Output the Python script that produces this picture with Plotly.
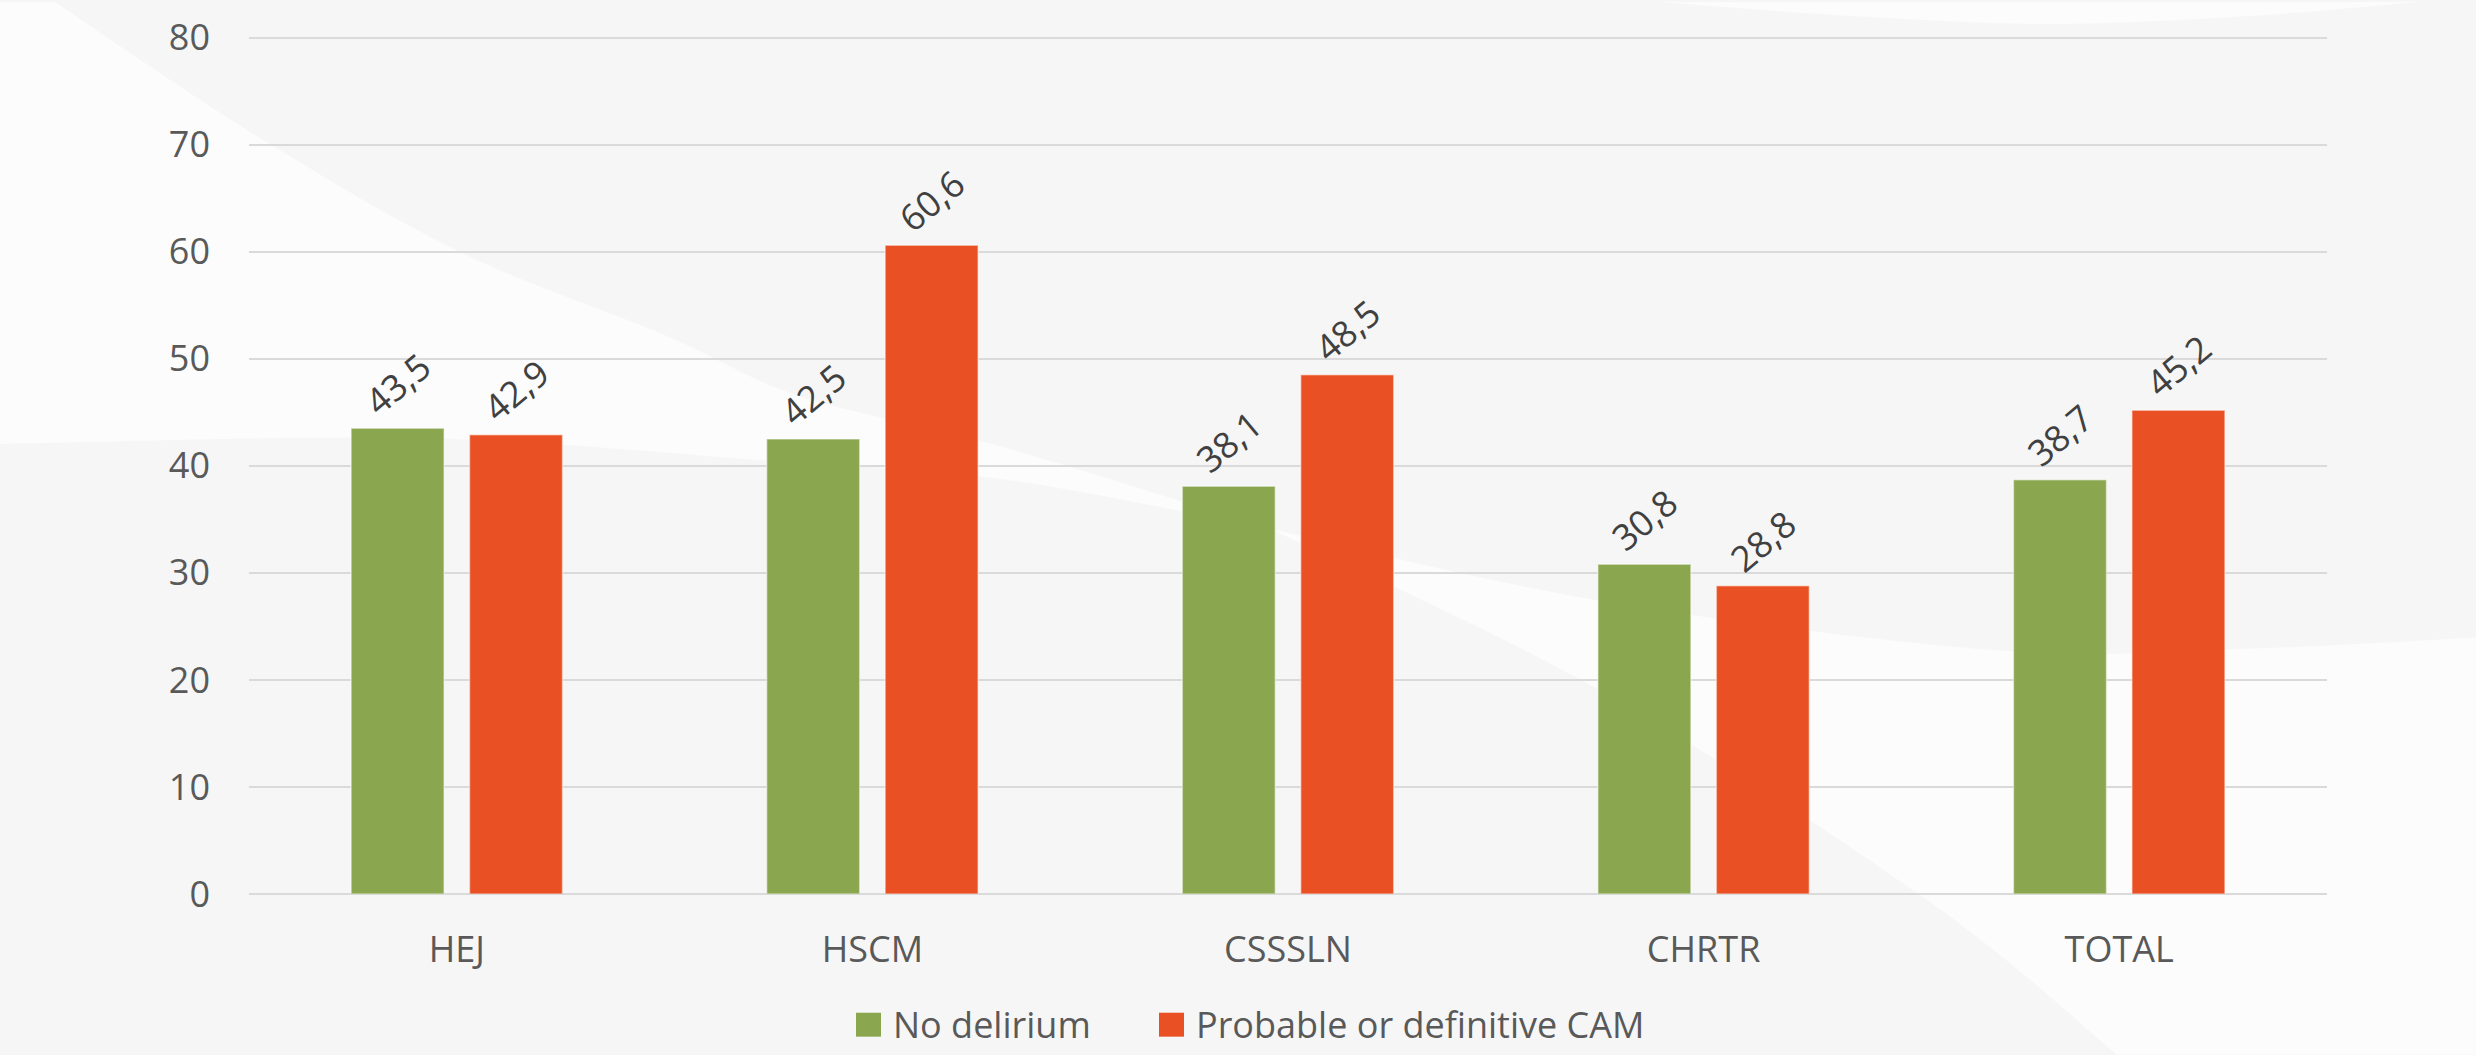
import plotly.graph_objects as go

# ---- data ----
categories = ["HEJ", "HSCM", "CSSSLN", "CHRTR", "TOTAL"]
series_names = ["No delirium", "Probable or definitive CAM"]
no_delirium = [43.5, 42.5, 38.1, 30.8, 38.7]
probable_cam = [42.9, 60.6, 48.5, 28.8, 45.2]
y_ticks = [0, 10, 20, 30, 40, 50, 60, 70, 80]

# ---- styling ----
W, H = 2476, 1055
ML, MR, MT, MB = 249, 149, 34, 161
Y_MAX = 80.15  # a hair above the top tick so its gridline is kept
GREEN = "#8aa64f"
RED = "#e95024"
BG = "#f6f6f6"
SWOOSH = "rgba(255,255,255,0.62)"
GRID = "#dadada"
TICK_COLOR = "#595959"
LABEL_COLOR = "#404040"
FONT = "Open Sans, Segoe UI, sans-serif"
FS = 36


def px_x(x):
    return (x - ML) / (W - ML - MR)


def px_y(y):
    return (H - MB - y) / (H - MT - MB)


def smooth(points, move=True):
    """Catmull-Rom curve through pixel points, as SVG path commands in paper units."""
    pts = [(px_x(x), px_y(y)) for x, y in points]
    out = ("M" if move else "L") + f"{pts[0][0]:.5f},{pts[0][1]:.5f}"
    n = len(pts)
    for i in range(n - 1):
        p0 = pts[i - 1] if i > 0 else pts[i]
        p1, p2 = pts[i], pts[i + 1]
        p3 = pts[i + 2] if i + 2 < n else pts[i + 1]
        c1 = (p1[0] + (p2[0] - p0[0]) / 6, p1[1] + (p2[1] - p0[1]) / 6)
        c2 = (p2[0] - (p3[0] - p1[0]) / 6, p2[1] - (p3[1] - p1[1]) / 6)
        out += f" C{c1[0]:.5f},{c1[1]:.5f} {c2[0]:.5f},{c2[1]:.5f} {p2[0]:.5f},{p2[1]:.5f}"
    return out


def line_to(x, y):
    return f" L{px_x(x):.5f},{px_y(y):.5f}"


# decorative background sweeps
diag_upper = [(55, 0), (255, 133), (459, 250), (663, 333), (800, 395), (1000, 445), (1270, 528)]
diag_lower = [(1270, 528), (1600, 690), (1927, 900), (2117, 1055)]
wave_left = [(1270, 528), (1000, 478), (746, 458), (500, 440), (300, 437), (0, 443)]
wave_right = [(2476, 637), (2250, 648), (2000, 650), (1600, 600), (1270, 528)]
arc_top = [(1660, 0), (1850, 14), (2050, 22), (2250, 14), (2420, 0)]

sweep_a = smooth(diag_upper) + " " + smooth(wave_left, move=False) + line_to(0, 0) + " Z"
sweep_b = (smooth(diag_lower) + line_to(2476, 1055) + line_to(2476, 637) + " "
           + smooth(wave_right, move=False) + " Z")
sweep_c = smooth(arc_top) + " Z"

shapes = [
    dict(type="path", path=p, xref="paper", yref="paper", fillcolor=SWOOSH,
         line=dict(width=0), layer="below")
    for p in (sweep_a, sweep_b, sweep_c)
]

fig = go.Figure()
for name, values, color in ((series_names[0], no_delirium, GREEN),
                            (series_names[1], probable_cam, RED)):
    fig.add_trace(go.Bar(
        name=name,
        x=categories,
        y=values,
        marker=dict(color=color, line=dict(color="rgba(255,255,255,0.45)", width=1.5)),
        texttemplate="%{y:.1f}",
        textposition="outside",
        textangle=-40,
        textfont=dict(family=FONT, size=FS, color=LABEL_COLOR),
        constraintext="none",
        cliponaxis=False,
        showlegend=False,
    ))

# legend drawn as colour keys with text
legend_y_top, legend_y_bot = 1013, 1037
legend_items = [(series_names[0], GREEN, 856), (series_names[1], RED, 1159)]
annotations = []
for name, color, x0 in legend_items:
    shapes.append(dict(type="rect", xref="paper", yref="paper",
                       x0=px_x(x0), x1=px_x(x0 + 25),
                       y0=px_y(legend_y_bot), y1=px_y(legend_y_top),
                       fillcolor=color, line=dict(width=0)))
    annotations.append(dict(text=name, xref="paper", yref="paper",
                            x=px_x(x0 + 35), y=px_y(1025), xanchor="left", yanchor="middle",
                            showarrow=False, font=dict(family=FONT, size=FS, color=TICK_COLOR)))

fig.update_layout(
    width=W,
    height=H,
    margin=dict(l=ML, r=MR, t=MT, b=MB, pad=0),
    paper_bgcolor=BG,
    plot_bgcolor="rgba(0,0,0,0)",
    separators=", ",
    barmode="group",
    bargap=0.43,
    bargroupgap=0.215,
    font=dict(family=FONT, size=FS, color=TICK_COLOR),
    shapes=shapes,
    annotations=annotations,
    showlegend=False,
    xaxis=dict(
        showgrid=False,
        showline=False,
        zeroline=False,
        ticks="",
        ticklabelstandoff=31,
        tickfont=dict(family=FONT, size=FS, color=TICK_COLOR),
    ),
    yaxis=dict(
        range=[0, Y_MAX],
        tickvals=y_ticks,
        showgrid=True,
        gridcolor=GRID,
        gridwidth=2,
        zeroline=True,
        zerolinecolor=GRID,
        zerolinewidth=2,
        showline=False,
        ticks="",
        ticklabelstandoff=38,
        tickfont=dict(family=FONT, size=FS, color=TICK_COLOR),
    ),
)

fig.write_html("out.html")
